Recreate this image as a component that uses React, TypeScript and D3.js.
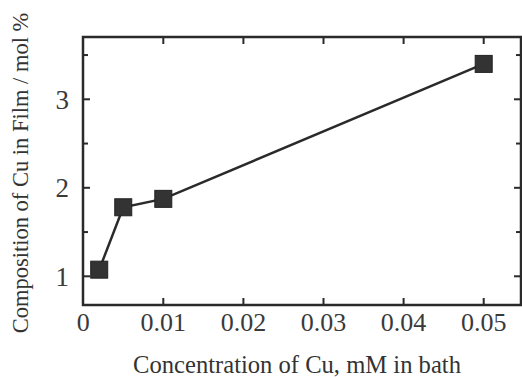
import React from "react";
import * as d3 from "d3";

const concentrations = [0.002, 0.005, 0.01, 0.05];
const composition = [1.075, 1.78, 1.875, 3.4];
const xTicks = [0, 0.01, 0.02, 0.03, 0.04, 0.05];
const xTickLabels = ["0", "0.01", "0.02", "0.03", "0.04", "0.05"];
const yTicks = [1, 2, 3];
const yMinorTicks = [1.5, 2.5, 3.5];

const W = 522;
const H = 378;
const left = 83;
const right = 521;
const top = 37;
const bottom = 305;
const ink = "#2a2a2a";
const font = "'Liberation Serif', 'Times New Roman', serif";

export default function App() {
  const x = d3.scaleLinear().domain([0, 0.0546]).range([83.2, 83.2 + 5.46 * 80.1]);
  const y = d3.scaleLinear().domain([1, 3]).range([276.3, 99.3]);
  const line = d3
    .line<number>()
    .x((_, i) => x(concentrations[i]))
    .y((d) => y(d));
  const tl = 7;
  const ms = 17;
  return (
    <svg width={W} height={H} style={{ position: "absolute", left: 0, top: 0, background: "#fff" }}>
      <rect x={0} y={0} width={W} height={H} fill="#fff" />
      {xTicks.map((t, i) => (
        <g key={"xt" + i}>
          {i > 0 && <line x1={x(t)} x2={x(t)} y1={bottom} y2={bottom - tl} stroke={ink} strokeWidth={2} />}
          {i > 0 && <line x1={x(t)} x2={x(t)} y1={top} y2={top + tl} stroke={ink} strokeWidth={2} />}
          <text x={x(t)} y={331} textAnchor="middle" fontFamily={font} fontSize={26} fill="#3a3a3a">
            {xTickLabels[i]}
          </text>
        </g>
      ))}
      {yTicks.map((t) => (
        <g key={"yt" + t}>
          <line x1={left} x2={left + tl} y1={y(t)} y2={y(t)} stroke={ink} strokeWidth={2} />
          <line x1={right} x2={right - tl} y1={y(t)} y2={y(t)} stroke={ink} strokeWidth={2} />
          <text x={69} y={y(t) + 9.5} textAnchor="end" fontFamily={font} fontSize={27} fill="#3a3a3a">
            {t}
          </text>
        </g>
      ))}
      {yMinorTicks.map((t) => (
        <g key={"ym" + t}>
          <line x1={left} x2={left + 5} y1={y(t)} y2={y(t)} stroke={ink} strokeWidth={2} />
          <line x1={right} x2={right - 5} y1={y(t)} y2={y(t)} stroke={ink} strokeWidth={2} />
        </g>
      ))}
      <rect x={left} y={top} width={right - left} height={bottom - top} fill="none" stroke={ink} strokeWidth={2.5} />
      <path d={line(composition) || ""} fill="none" stroke={ink} strokeWidth={2.5} />
      {composition.map((v, i) => (
        <rect
          key={"m" + i}
          x={x(concentrations[i]) - ms / 2}
          y={y(v) - ms / 2}
          width={ms}
          height={ms}
          fill="#333"
          stroke="#222"
          strokeWidth={1}
        />
      ))}
      <text x={297} y={373} textAnchor="middle" fontFamily={font} fontSize={24.6} fill="#333">
        Concentration of Cu, mM in bath
      </text>
      <text
        transform={`translate(27.7,173) rotate(-90)`}
        textAnchor="middle"
        fontFamily={font}
        fontSize={22.5}
        fill="#333"
      >
        Composition of Cu in Film / mol %
      </text>
    </svg>
  );
}
